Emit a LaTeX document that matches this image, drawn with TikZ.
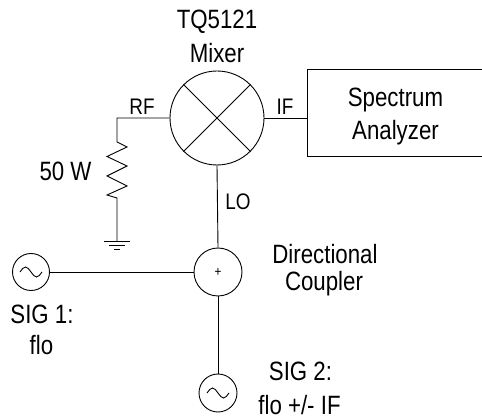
\documentclass[tikz,border=0pt]{standalone}
\usepackage{fontspec}
\setmainfont{Liberation Sans}[FakeStretch=0.84]
\begin{document}
\begin{tikzpicture}[x=1pt,y=-1pt,line width=0.9pt,
  big/.style={inner sep=0pt,anchor=base,font=\fontsize{26.5}{30}\selectfont},
  small/.style={inner sep=0pt,anchor=base,font=\fontsize{22.5}{26}\selectfont},
  ring/.style={draw,circle,inner sep=0pt,minimum size=#1},
  wire/.style={draw,line width=0.9pt}]
\useasboundingbox (0,0) rectangle (482,419);
% components
\node[ring=94pt] (mix) at (217,118) {};
\draw (mix.135) -- (mix.-45) (mix.45) -- (mix.-135);
\node[draw,rectangle,inner sep=0pt,minimum width=176pt,minimum height=87pt,anchor=north west] (sa) at (307,69) {};
\node[ring=48pt,font=\fontsize{14}{14}\selectfont] (coup) at (218,272) {+};
\node[ring=37pt] (s1) at (31,272) {};
\node[ring=38pt] (s2) at (218,393) {};
\draw (s1.center) ++(-11,0) sin ++(5.5,-5) cos ++(5.5,5) sin ++(5.5,5) cos ++(5.5,-5);
\draw (s2.center) ++(-11,0) sin ++(5.5,-5) cos ++(5.5,5) sin ++(5.5,5) cos ++(5.5,-5);
% resistor and ground
\coordinate (corner) at (117,118);
\coordinate (rtop) at (117,142);
\coordinate (rbot) at (117,198);
\coordinate (gnd) at (117,241);
\draw (mix.west) -- (corner) -- (rtop) -- (127,147) -- (107,156.5) -- (127,166) -- (107,176) -- (127,186) -- (107,195) -- (rbot) -- (gnd);
\draw (gnd) ++(-13,0) -- ++(26,0);
\draw (gnd) ++(-8,4) -- ++(16,0);
\draw (gnd) ++(-3,8) -- ++(6,0);
% connectors
\draw (mix.east) -- (mix.east -| sa.west);
\draw (mix.south) -- (coup.north);
\draw (s1.east) -- (coup.west);
\draw (coup.south) -- (s2.north);
% labels
\node[big] (t1) at (217,29) {TQ5121};
\node[big] (t2) at (217,63) {Mixer};
\node[small] (rf) at (142,115) {RF};
\node[small] (if) at (285,115) {IF};
\node[small] (lo) at (238,210) {LO};
\node[big] (ohm) at (65.5,181) {50 W};
\node[big] (sa1) at (395.5,107) {Spectrum};
\node[big] (sa2) at (395.5,140) {Analyzer};
\node[big] (dc1) at (325,264) {Directional};
\node[big] (dc2) at (324,291) {Coupler};
\node[big] (g1a) at (42,324) {SIG 1:};
\node[big] (g1b) at (41.5,355) {flo};
\node[big] (g2a) at (300.5,381) {SIG 2:};
\node[big] (g2b) at (299.5,414) {flo +/- IF};
\end{tikzpicture}
\end{document}
